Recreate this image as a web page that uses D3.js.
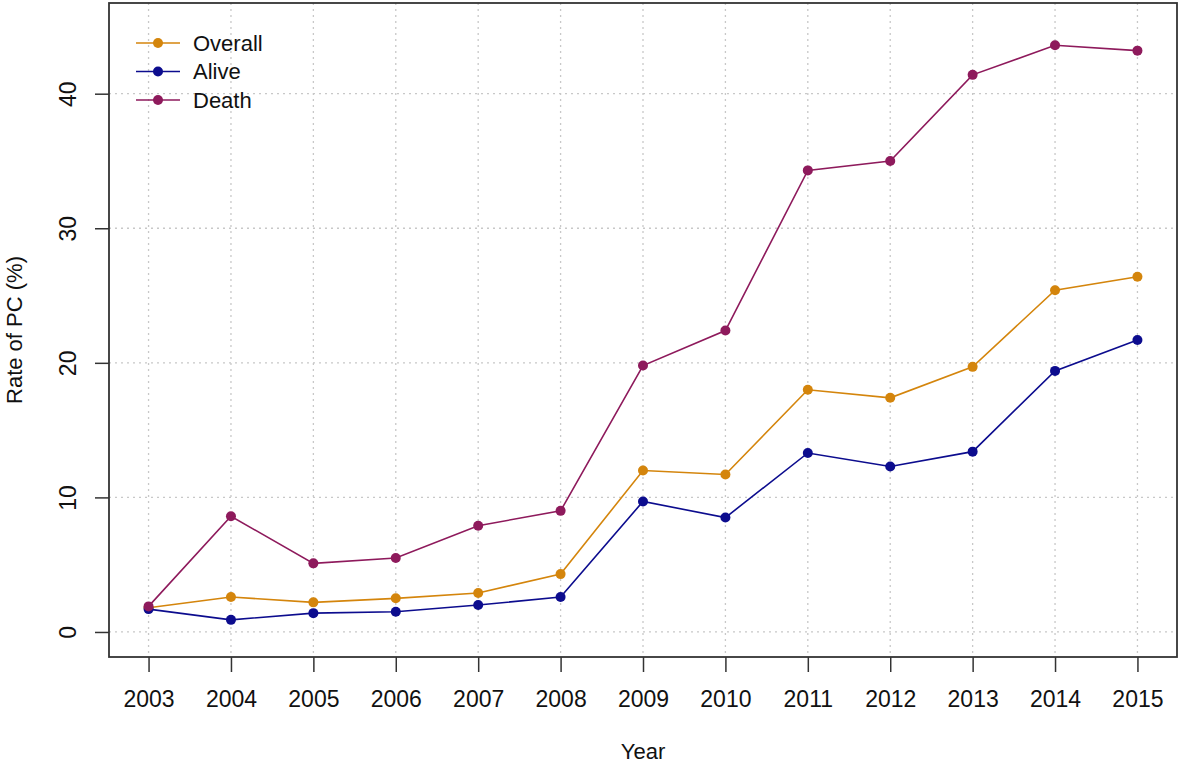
<!DOCTYPE html>
<html>
<head>
<meta charset="utf-8">
<script src="https://cdn.jsdelivr.net/npm/d3@7"></script>
<style>
  body { margin: 0; background: #fff; }
  text { font-family: "Liberation Sans", Arial, sans-serif; fill: #111; }
</style>
</head>
<body>
<svg id="svg" width="1181" height="766"></svg>
<script>
const years = [2003, 2004, 2005, 2006, 2007, 2008, 2009, 2010, 2011, 2012, 2013, 2014, 2015];
const overall = [1.8, 2.6, 2.2, 2.5, 2.9, 4.3, 12.0, 11.7, 18.0, 17.4, 19.7, 25.4, 26.4];
const alive = [1.7, 0.9, 1.4, 1.5, 2.0, 2.6, 9.7, 8.5, 13.3, 12.3, 13.4, 19.4, 21.7];
const death = [1.9, 8.6, 5.1, 5.5, 7.9, 9.0, 19.8, 22.4, 34.3, 35.0, 41.4, 43.6, 43.2];
const yTicks = [0, 10, 20, 30, 40];
const seriesNames = ['Overall', 'Alive', 'Death'];
const seriesColors = ['#d4850c', '#0c0c8e', '#8e1a5c'];

const series = [overall, alive, death].map((vals, i) => ({
  name: seriesNames[i],
  color: seriesColors[i],
  points: years.map((y, j) => ({ year: y, value: vals[j] }))
}));

const svg = d3.select('#svg');
const plotLeft = 109, plotRight = 1177, plotTop = 3, plotBottom = 657;

const x = d3.scaleLinear().domain([2002.52, 2015.48]).range([plotLeft, plotRight]);
const y = d3.scaleLinear().domain([-1.86, 46.74]).range([plotBottom, plotTop]);

// grid
svg.append('g')
  .selectAll('line')
  .data(years)
  .enter()
  .append('line')
  .attr('x1', d => x(d)).attr('x2', d => x(d))
  .attr('y1', plotTop).attr('y2', plotBottom)
  .attr('stroke', '#c8c8c8').attr('stroke-width', 1.3)
  .attr('stroke-dasharray', '2,4');
svg.append('g')
  .selectAll('line')
  .data(yTicks)
  .enter()
  .append('line')
  .attr('x1', plotLeft).attr('x2', plotRight)
  .attr('y1', d => y(d)).attr('y2', d => y(d))
  .attr('stroke', '#c8c8c8').attr('stroke-width', 1.3)
  .attr('stroke-dasharray', '2,4');

// axes
const xAxis = svg.append('g')
  .attr('transform', `translate(0,${plotBottom})`)
  .call(d3.axisBottom(x).tickValues(years).tickFormat(d3.format('d')).tickSize(15).tickPadding(19));
xAxis.select('.domain').remove();
xAxis.selectAll('.tick line').attr('stroke', '#333').attr('stroke-width', 1.5);
xAxis.selectAll('.tick text').style('font-size', '23px').attr('fill', '#111');

const yAxis = svg.append('g')
  .attr('transform', `translate(${plotLeft},0)`)
  .call(d3.axisLeft(y).tickValues(yTicks).tickSize(14).tickPadding(0));
yAxis.select('.domain').remove();
yAxis.selectAll('.tick line').attr('stroke', '#333').attr('stroke-width', 1.5);
yAxis.selectAll('.tick text')
  .style('font-size', '23px')
  .attr('fill', '#111')
  .attr('text-anchor', 'middle')
  .attr('x', 0).attr('dy', 0).attr('y', 0)
  .attr('transform', 'translate(-33,0) rotate(-90)');

// box
svg.append('rect')
  .attr('x', plotLeft).attr('y', plotTop)
  .attr('width', plotRight - plotLeft).attr('height', plotBottom - plotTop)
  .attr('fill', 'none').attr('stroke', '#333').attr('stroke-width', 1.8);

// axis titles
svg.append('text')
  .attr('x', (plotLeft + plotRight) / 2).attr('y', 759)
  .attr('text-anchor', 'middle')
  .style('font-size', '22px')
  .text('Year');
svg.append('text')
  .attr('transform', `translate(22,${(plotTop + plotBottom) / 2}) rotate(-90)`)
  .attr('text-anchor', 'middle')
  .style('font-size', '22px')
  .text('Rate of PC (%)');

// lines and points
const line = d3.line().x(d => x(d.year)).y(d => y(d.value));
const g = svg.selectAll('.series')
  .data(series)
  .enter()
  .append('g')
  .attr('class', 'series');
g.append('path')
  .attr('d', d => line(d.points))
  .attr('fill', 'none')
  .attr('stroke', d => d.color)
  .attr('stroke-width', 1.6);
g.selectAll('circle')
  .data(d => d.points.map(p => ({ ...p, color: d.color })))
  .enter()
  .append('circle')
  .attr('cx', d => x(d.year)).attr('cy', d => y(d.value))
  .attr('r', 5)
  .attr('fill', d => d.color);

// legend
const legend = svg.append('g')
  .selectAll('g')
  .data(series)
  .enter()
  .append('g')
  .attr('transform', (d, i) => `translate(136,${43 + i * 28.5})`);
legend.append('line')
  .attr('x1', 0).attr('x2', 44)
  .attr('stroke', d => d.color).attr('stroke-width', 1.6);
legend.append('circle')
  .attr('cx', 22).attr('r', 5)
  .attr('fill', d => d.color);
legend.append('text')
  .attr('x', 57).attr('dy', '0.36em')
  .style('font-size', '22px')
  .text(d => d.name);
</script>
</body>
</html>
